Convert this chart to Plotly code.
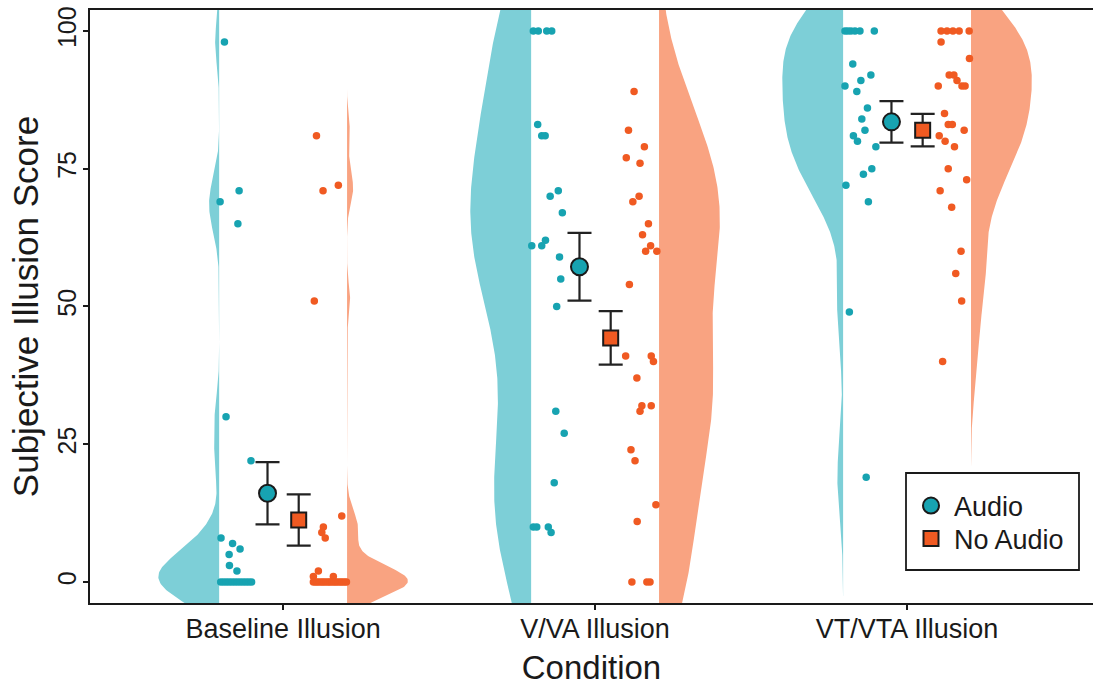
import numpy as np
import plotly.graph_objects as go

# ---------------- data ----------------
conditions = ["Baseline Illusion", "V/VA Illusion", "VT/VTA Illusion"]

audio_baseline = [98, 71, 69, 65, 30, 22, 8, 7, 6, 5, 3, 2,
                  0, 0, 0, 0, 0, 0, 0, 0, 0, 0, 0, 0]
audio_baseline_jit = [-0.188, -0.141, -0.202, -0.145, -0.183, -0.103, -0.199, -0.162, -0.138, -0.173, -0.172, -0.148,
                      -0.200, -0.191, -0.182, -0.173, -0.164, -0.155, -0.146, -0.137, -0.128, -0.119, -0.110, -0.101]

noaudio_baseline = [81, 71, 72, 51, 12, 10, 9, 8, 2, 1, 1,
                    0, 0, 0, 0, 0, 0, 0, 0, 0, 0, 0, 0, 0, 0, 0, 0, 0]
noaudio_baseline_jit = [0.107, 0.128, 0.177, 0.100, 0.188, 0.129, 0.124, 0.135, 0.113, 0.097, 0.161,
                        0.097, 0.104, 0.110, 0.117, 0.124, 0.130, 0.137, 0.144, 0.150, 0.157, 0.164,
                        0.170, 0.177, 0.184, 0.190, 0.197, 0.203]

audio_vva = [100, 100, 100, 100, 83, 81, 81, 71, 70, 67, 62, 61, 61, 59, 55, 50, 31, 27, 18, 10, 10, 10, 9]
audio_vva_jit = [-0.198, -0.182, -0.155, -0.139, -0.184, -0.171, -0.160, -0.118, -0.144, -0.105, -0.159,
                 -0.203, -0.171, -0.114, -0.110, -0.123, -0.126, -0.099, -0.131, -0.198, -0.187, -0.150, -0.141]

noaudio_vva = [89, 82, 79, 77, 76, 70, 69, 65, 63, 61, 60, 60, 54, 41, 41, 40, 37, 32, 32, 31,
               24, 22, 14, 11, 0, 0, 0]
noaudio_vva_jit = [0.125, 0.107, 0.158, 0.100, 0.144, 0.141, 0.121, 0.171, 0.152, 0.178, 0.162, 0.198,
                   0.110, 0.098, 0.180, 0.187, 0.134, 0.150, 0.180, 0.144, 0.115, 0.128, 0.195, 0.135,
                   0.118, 0.166, 0.176]

audio_vtva = [100, 100, 100, 100, 100, 100, 94, 92, 91, 90, 89, 86, 84, 82, 81, 80, 79, 75, 74, 72, 69, 49, 19]
audio_vtva_jit = [-0.199, -0.190, -0.180, -0.167, -0.151, -0.105, -0.174, -0.116, -0.148, -0.199, -0.161,
                  -0.127, -0.145, -0.135, -0.172, -0.159, -0.100, -0.113, -0.140, -0.196, -0.124, -0.185, -0.131]

noaudio_vtva = [100, 100, 100, 100, 100, 98, 95, 92, 91, 90, 90, 92, 90, 85, 83, 83, 82, 81, 80, 79,
                75, 73, 71, 68, 60, 56, 51, 40]
noaudio_vtva_jit = [0.109, 0.128, 0.147, 0.167, 0.199, 0.109, 0.200, 0.135, 0.160, 0.176, 0.186, 0.150,
                    0.100, 0.120, 0.132, 0.145, 0.183, 0.103, 0.122, 0.152, 0.132, 0.191, 0.106, 0.143,
                    0.173, 0.156, 0.175, 0.114]

# group means and standard errors
audio_mean = [16.1, 57.2, 83.5]
audio_se = [5.65, 6.15, 3.75]
noaudio_mean = [11.25, 44.3, 82.0]
noaudio_se = [4.65, 4.85, 2.95]

# ---------------- styling ----------------
TEAL_PT = "#17A3B1"
TEAL_FILL = "#7DCFD7"
ORANGE_PT = "#F05A22"
ORANGE_FILL = "#F9A381"
INK = "#1a1a1a"
FONT = "Liberation Sans, Arial, sans-serif"
EDGE = 0.205      # distance of the flat violin edge from the category centre
HALF_W = 0.195    # maximum half-violin width
MEAN_OFF = 0.05

audio_sets = [(audio_baseline, audio_baseline_jit), (audio_vva, audio_vva_jit), (audio_vtva, audio_vtva_jit)]
noaudio_sets = [(noaudio_baseline, noaudio_baseline_jit), (noaudio_vva, noaudio_vva_jit),
                (noaudio_vtva, noaudio_vtva_jit)]


def nrd0(x):
    x = np.asarray(x, float)
    sd = x.std(ddof=1)
    q75, q25 = np.percentile(x, [75, 25])
    lo = min(sd, (q75 - q25) / 1.34)
    if lo <= 0:
        lo = sd if sd > 0 else 1.0
    return 0.9 * lo * len(x) ** -0.2


def kde(x):
    x = np.asarray(x, float)
    bw = nrd0(x)
    grid = np.linspace(x.min() - 3 * bw, x.max() + 3 * bw, 600)
    dens = np.exp(-0.5 * ((grid[:, None] - x[None, :]) / bw) ** 2).sum(axis=1)
    return grid, dens / dens.max()


fig = go.Figure()

# half violins
for i in range(3):
    for (vals, _), side, fill in ((audio_sets[i], -1, TEAL_FILL), (noaudio_sets[i], 1, ORANGE_FILL)):
        g, d = kde(vals)
        base = i + side * EDGE
        xs = np.concatenate([base + side * HALF_W * d, [base, base]])
        ys = np.concatenate([g, [g[-1], g[0]]])
        fig.add_trace(go.Scatter(x=xs, y=ys, mode="lines", fill="toself", fillcolor=fill,
                                 line=dict(width=0, color=fill), hoverinfo="skip", showlegend=False))

# raw points
for i in range(3):
    for (vals, jit), col in ((audio_sets[i], TEAL_PT), (noaudio_sets[i], ORANGE_PT)):
        fig.add_trace(go.Scatter(x=[i + j for j in jit], y=vals, mode="markers",
                                 marker=dict(size=7.5, color=col, line=dict(width=0)),
                                 showlegend=False, hoverinfo="skip"))

# means with error bars
xs_idx = np.arange(3)
fig.add_trace(go.Scatter(x=xs_idx - MEAN_OFF, y=audio_mean, mode="markers", name="Audio",
                         error_y=dict(type="data", array=audio_se, color="#222222", thickness=2.2, width=12),
                         marker=dict(symbol="circle", size=17, color=TEAL_PT, line=dict(width=2, color=INK)),
                         showlegend=False))
fig.add_trace(go.Scatter(x=xs_idx + MEAN_OFF, y=noaudio_mean, mode="markers", name="No Audio",
                         error_y=dict(type="data", array=noaudio_se, color="#222222", thickness=2.2, width=12),
                         marker=dict(symbol="square", size=15, color=ORANGE_PT, line=dict(width=2, color=INK)),
                         showlegend=False))

# legend entries (one legend per entry so spacing can follow the reference)
fig.add_trace(go.Scatter(x=[None], y=[None], mode="markers", name="Audio", legend="legend",
                         marker=dict(symbol="circle", size=17, color=TEAL_PT, line=dict(width=2, color=INK))))
fig.add_trace(go.Scatter(x=[None], y=[None], mode="markers", name="No Audio", legend="legend2",
                         marker=dict(symbol="square", size=15, color=ORANGE_PT, line=dict(width=2, color=INK))))

# plot area in pixels: x 90..1093, y 10..603
PL, PR, PT, PB = 90, 1093, 10, 603


def px_x(p):
    return (p - PL) / (PR - PL)


def px_y(p):
    return (PB - p) / (PB - PT)


leg_common = dict(xanchor="left", yanchor="middle", bgcolor="rgba(0,0,0,0)", borderwidth=0,
                  font=dict(size=27, family=FONT, color=INK), itemsizing="trace", itemwidth=36)

fig.update_layout(
    width=1093, height=687,
    margin=dict(l=PL, r=1093 - PR, t=PT, b=687 - PB),
    paper_bgcolor="white", plot_bgcolor="white",
    font=dict(family=FONT, size=24, color=INK),
    showlegend=True,
    legend=dict(x=px_x(908), y=px_y(506), **leg_common),
    legend2=dict(x=px_x(908), y=px_y(539), **leg_common),
    shapes=[dict(type="rect", xref="paper", yref="paper", layer="above",
                 x0=px_x(906), x1=px_x(1079), y0=px_y(570), y1=px_y(473),
                 line=dict(color=INK, width=1.8), fillcolor="white")],
    xaxis=dict(range=[-0.619, 2.596], tickvals=[0, 1, 2], ticktext=conditions,
               showgrid=False, zeroline=False, showline=True, linecolor=INK, linewidth=2,
               mirror=True, ticks="outside", ticklen=5, tickwidth=1.5, tickcolor=INK,
               ticklabelstandoff=-4,
               tickfont=dict(size=27, family=FONT, color=INK),
               title=dict(text="Condition", font=dict(size=33, family=FONT, color=INK), standoff=12)),
    yaxis=dict(range=[-3.81, 103.8], tickvals=[0, 25, 50, 75, 100], tickangle=-90,
               showgrid=False, zeroline=False, showline=True, linecolor=INK, linewidth=2,
               mirror=False, ticks="outside", ticklen=5, tickwidth=1.5, tickcolor=INK,
               ticklabelstandoff=-3,
               tickfont=dict(size=25, family=FONT, color=INK),
               title=dict(text="Subjective Illusion Score", font=dict(size=35, family=FONT, color=INK),
                          standoff=4)),
)

fig.write_html("out.html")
